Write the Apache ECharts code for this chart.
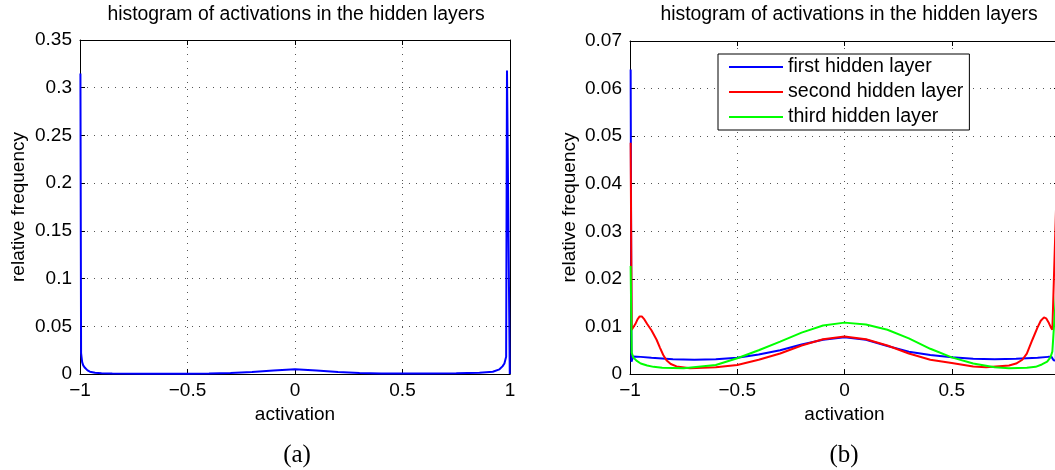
<!DOCTYPE html>
<html>
<head>
<meta charset="utf-8">
<script src="https://cdn.jsdelivr.net/npm/echarts@6/dist/echarts.min.js"></script>
<style>
html,body{margin:0;padding:0;background:#fff;}
#chart{width:1055px;height:470px;}
</style>
</head>
<body>
<div id="chart"></div>
<script>
// ---- data ----
const titleText = 'histogram of activations in the hidden layers';
const xName = 'activation';
const yName = 'relative frequency';
const seriesNames = ['first hidden layer', 'second hidden layer', 'third hidden layer'];
const panelLabels = ['(a)', '(b)'];

// panel (a): first hidden layer
const leftX = [-0.998, -0.995, -0.99, -0.985, -0.977, -0.965, -0.954, -0.93, -0.9, -0.85, -0.7, -0.5, -0.4, -0.3, -0.2, -0.1, 0, 0.1, 0.2, 0.3, 0.4, 0.5, 0.6, 0.75, 0.858, 0.92, 0.951, 0.965, 0.974, 0.982, 0.986, 0.999];
const leftY = [0.315, 0.022, 0.0125, 0.009, 0.0065, 0.0038, 0.0024, 0.0013, 0.0008, 0.0005, 0.0003, 0.0003, 0.0005, 0.001, 0.002, 0.0037, 0.0049, 0.0037, 0.002, 0.001, 0.0006, 0.0005, 0.0006, 0.0009, 0.0014, 0.0024, 0.0049, 0.008, 0.011, 0.018, 0.318, 0];

// panel (b)
const blueX = [-0.997, -0.993, -0.985, -0.95, -0.9, -0.8, -0.7, -0.6, -0.5, -0.4, -0.3, -0.2, -0.1, 0, 0.1, 0.2, 0.3, 0.4, 0.5, 0.6, 0.7, 0.8, 0.9, 0.95, 0.965, 0.975, 0.985, 0.995];
const blueY = [0.064, 0.0026, 0.0037, 0.0036, 0.0034, 0.0031, 0.003, 0.0031, 0.0034, 0.0041, 0.005, 0.0062, 0.0072, 0.0077, 0.0072, 0.0059, 0.0047, 0.004, 0.0035, 0.0032, 0.0031, 0.0032, 0.0034, 0.0036, 0.0036, 0.0029, 0.0028, 0.064];

const redX = [-0.997, -0.992, -0.985, -0.975, -0.965, -0.955, -0.945, -0.935, -0.92, -0.9, -0.876, -0.86, -0.845, -0.83, -0.81, -0.783, -0.72, -0.6, -0.5, -0.4, -0.3, -0.2, -0.1, 0, 0.1, 0.2, 0.3, 0.4, 0.5, 0.6, 0.66, 0.767, 0.8, 0.829, 0.85, 0.876, 0.9, 0.915, 0.93, 0.94, 0.953, 0.962, 0.969, 0.995];
const redY = [0.0486, 0.0093, 0.0095, 0.0105, 0.0115, 0.0121, 0.0121, 0.0116, 0.0105, 0.0092, 0.0072, 0.0055, 0.004, 0.0029, 0.0021, 0.0016, 0.0012, 0.0014, 0.0019, 0.003, 0.0043, 0.006, 0.0073, 0.0079, 0.0073, 0.006, 0.0043, 0.003, 0.0023, 0.0016, 0.0014, 0.0018, 0.0022, 0.003, 0.0043, 0.0072, 0.0098, 0.0112, 0.0119, 0.0117, 0.0107, 0.0098, 0.0093, 0.048];

const greenX = [-0.997, -0.992, -0.985, -0.97, -0.95, -0.92, -0.89, -0.85, -0.75, -0.6, -0.5, -0.4, -0.3, -0.2, -0.1, 0, 0.1, 0.2, 0.3, 0.4, 0.5, 0.6, 0.7, 0.767, 0.85, 0.891, 0.92, 0.945, 0.96, 0.969, 0.995];
const greenY = [0.0227, 0.0045, 0.0035, 0.0028, 0.0022, 0.0018, 0.0015, 0.0013, 0.0012, 0.0019, 0.0033, 0.005, 0.0068, 0.0087, 0.0102, 0.0108, 0.0104, 0.0093, 0.0075, 0.0053, 0.0035, 0.0022, 0.0014, 0.0012, 0.0013, 0.0015, 0.002, 0.0026, 0.0035, 0.0047, 0.023];

const xTicks = {min: -1, max: 1, interval: 0.5};
const yTicksA = {min: 0, max: 0.35, interval: 0.05};
const yTicksB = {min: 0, max: 0.07, interval: 0.01};
const colors = ['#0000ff', '#ff0000', '#00ff00'];

// ---- chart ----
const FONT = "'Liberation Sans', Arial, Helvetica, sans-serif";
const pairs = (xs, ys) => xs.map((x, i) => [x, ys[i]]);
const fmtX = v => {
  const r = Math.round(v * 100) / 100;
  return r < 0 ? '\u2212' + String(-r) : String(r);
};
const fmtY = v => String(Math.round(v * 1000) / 1000);

const gridLine = {show: true, lineStyle: {color: '#555', width: 1, type: [1, 6]}};
const axisLine = {show: true, onZero: false, lineStyle: {color: '#000', width: 1}};
const tickIn = {show: true, inside: true, length: 5, lineStyle: {color: '#000'}};
const labelStyle = {color: '#000', fontFamily: FONT, fontSize: 19};

function xAxes(gridIndex, hideMax) {
  return [
    Object.assign({type: 'value', gridIndex, position: 'bottom', axisLine, axisTick: tickIn,
      splitLine: gridLine,
      axisLabel: Object.assign({formatter: fmtX, margin: 7, showMaxLabel: !hideMax}, labelStyle),
      name: xName, nameLocation: 'middle', nameGap: 29,
      nameTextStyle: {color: '#000', fontFamily: FONT, fontSize: 19}}, xTicks),
    Object.assign({type: 'value', gridIndex, position: 'top', axisLine, axisTick: tickIn,
      splitLine: {show: false}, axisLabel: {show: false}}, xTicks)
  ];
}
function yAxes(gridIndex, ticks, gap) {
  return [
    Object.assign({type: 'value', gridIndex, position: 'left', axisLine, axisTick: tickIn,
      splitLine: gridLine,
      axisLabel: Object.assign({formatter: fmtY, margin: 8}, labelStyle),
      name: yName, nameLocation: 'middle', nameGap: gap, nameRotate: 90,
      nameTextStyle: {color: '#000', fontFamily: FONT, fontSize: 19}}, ticks),
    Object.assign({type: 'value', gridIndex, position: 'right', axisLine, axisTick: tickIn,
      splitLine: {show: false}, axisLabel: {show: false}}, ticks)
  ];
}

const lineSeries = (name, xIdx, yIdx, data, color, z) => ({
  name, type: 'line', xAxisIndex: xIdx, yAxisIndex: yIdx, data,
  symbol: 'none', smooth: false, z,
  lineStyle: {color, width: 2}, itemStyle: {color}
});

const option = {
  animation: false,
  backgroundColor: '#fff',
  grid: [
    {left: 80, top: 40, width: 430, height: 334, outerBoundsMode: 'none'},
    {left: 630, top: 41, width: 429, height: 333, outerBoundsMode: 'none'}
  ],
  xAxis: [...xAxes(0, false), ...xAxes(1, true)],
  yAxis: [...yAxes(0, yTicksA, 52), ...yAxes(1, yTicksB, 51)],
  legend: {
    show: true, orient: 'vertical', left: 718, top: 54,
    data: seriesNames.map(n => ({name: n, icon: 'rect'})),
    itemWidth: 54, itemHeight: 2, itemGap: 5,
    backgroundColor: '#fff', borderColor: '#000', borderWidth: 1, borderRadius: 0,
    padding: [3, 6, 3, 11],
    textStyle: {color: '#000', fontFamily: FONT, fontSize: 19.6},
    selectedMode: false
  },
  graphic: [
    {type: 'text', x: 296, y: 15, style: {text: titleText, font: '19.4px ' + FONT, fill: '#000', align: 'center', verticalAlign: 'middle'}},
    {type: 'text', x: 849, y: 15, style: {text: titleText, font: '19.4px ' + FONT, fill: '#000', align: 'center', verticalAlign: 'middle'}},
    {type: 'text', x: 297, y: 455, style: {text: panelLabels[0], font: "25px 'Liberation Serif', 'DejaVu Serif', serif", fill: '#000', align: 'center', verticalAlign: 'middle'}},
    {type: 'text', x: 844, y: 455, style: {text: panelLabels[1], font: "25px 'Liberation Serif', 'DejaVu Serif', serif", fill: '#000', align: 'center', verticalAlign: 'middle'}}
  ],
  series: [
    lineSeries('first hidden layer (a)', 0, 0, pairs(leftX, leftY), colors[0], 2),
    lineSeries(seriesNames[0], 2, 2, pairs(blueX, blueY), colors[0], 2),
    lineSeries(seriesNames[1], 2, 2, pairs(redX, redY), colors[1], 3),
    lineSeries(seriesNames[2], 2, 2, pairs(greenX, greenY), colors[2], 4)
  ]
};

const chart = echarts.init(document.getElementById('chart'), null, {renderer: 'canvas'});
chart.setOption(option);
</script>
</body>
</html>
